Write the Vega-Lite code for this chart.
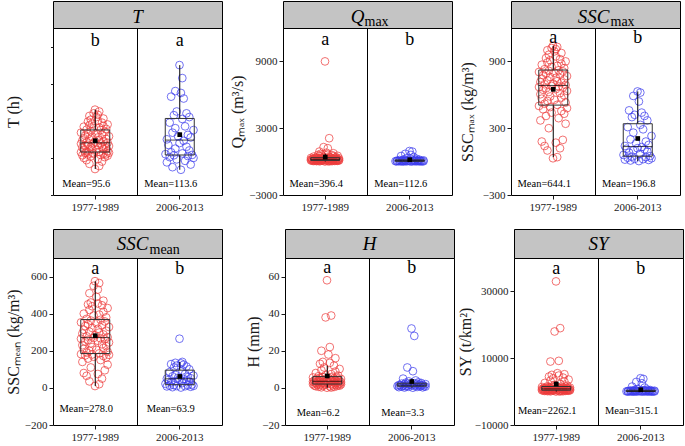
{
"$schema": "https://vega.github.io/schema/vega-lite/v6.json",
"padding": {"left": 4, "top": 0, "right": 0, "bottom": 0},
"background": "white",
"config": {
  "font": "Liberation Serif",
  "view": {"stroke": "black", "strokeWidth": 1},
  "axis": {"labelFont": "Liberation Serif", "labelFontSize": 11, "labelColor": "#1a1a1a", "titleFont": "Liberation Serif", "titleFontSize": 16, "titleFontWeight": "normal", "titleColor": "#1a1a1a", "tickColor": "#1a1a1a", "domain": false, "grid": false, "labelPadding": 2, "tickSize": 4},
  "axisX": {"labelAngle": 0}
},
"datasets": {
"ev": [
{"p":"1977-1989","j":0.0,"T":20,"Q":10,"Sx":30,"Sm":10,"H":0.1,"SY":20},
{"p":"1977-1989","j":0.3,"T":28,"Q":20,"Sx":40,"Sm":20,"H":0.2,"SY":50},
{"p":"1977-1989","j":-0.4,"T":34,"Q":30,"Sx":100,"Sm":35,"H":0.3,"SY":80},
{"p":"1977-1989","j":0.5,"T":40,"Q":40,"Sx":120,"Sm":50,"H":0.5,"SY":100},
{"p":"1977-1989","j":-0.6,"T":44,"Q":45,"Sx":140,"Sm":65,"H":0.6,"SY":130},
{"p":"1977-1989","j":0.2,"T":47,"Q":50,"Sx":170,"Sm":75,"H":0.8,"SY":160},
{"p":"1977-1989","j":-0.8,"T":50,"Q":55,"Sx":180,"Sm":80,"H":0.9,"SY":190},
{"p":"1977-1989","j":0.7,"T":52,"Q":60,"Sx":195,"Sm":95,"H":1.0,"SY":220},
{"p":"1977-1989","j":-0.3,"T":54,"Q":65,"Sx":300,"Sm":110,"H":1.1,"SY":250},
{"p":"1977-1989","j":0.9,"T":56,"Q":70,"Sx":340,"Sm":125,"H":1.2,"SY":270},
{"p":"1977-1989","j":-0.9,"T":57,"Q":75,"Sx":370,"Sm":140,"H":1.3,"SY":290},
{"p":"1977-1989","j":0.4,"T":58,"Q":80,"Sx":390,"Sm":150,"H":1.4,"SY":310},
{"p":"1977-1989","j":-0.5,"T":59,"Q":85,"Sx":410,"Sm":158,"H":1.5,"SY":330},
{"p":"1977-1989","j":0.8,"T":60,"Q":88,"Sx":430,"Sm":163,"H":1.6,"SY":340},
{"p":"1977-1989","j":-0.1,"T":61,"Q":90,"Sx":440,"Sm":168,"H":1.7,"SY":350},
{"p":"1977-1989","j":0.6,"T":62,"Q":92,"Sx":455,"Sm":172,"H":1.8,"SY":360},
{"p":"1977-1989","j":-0.7,"T":63,"Q":95,"Sx":470,"Sm":175,"H":1.8,"SY":370},
{"p":"1977-1989","j":1.0,"T":64,"Q":97,"Sx":480,"Sm":178,"H":1.9,"SY":380},
{"p":"1977-1989","j":-0.2,"T":64,"Q":99,"Sx":490,"Sm":180,"H":2.0,"SY":390},
{"p":"1977-1989","j":-1.0,"T":65,"Q":100,"Sx":500,"Sm":182,"H":2.0,"SY":400},
{"p":"1977-1989","j":0.3,"T":66,"Q":105,"Sx":510,"Sm":186,"H":2.1,"SY":420},
{"p":"1977-1989","j":-0.6,"T":67,"Q":110,"Sx":520,"Sm":190,"H":2.2,"SY":440},
{"p":"1977-1989","j":0.9,"T":68,"Q":115,"Sx":530,"Sm":195,"H":2.3,"SY":460},
{"p":"1977-1989","j":-0.4,"T":70,"Q":120,"Sx":545,"Sm":200,"H":2.4,"SY":480},
{"p":"1977-1989","j":0.1,"T":71,"Q":125,"Sx":555,"Sm":205,"H":2.5,"SY":500},
{"p":"1977-1989","j":-0.8,"T":72,"Q":130,"Sx":565,"Sm":210,"H":2.6,"SY":520},
{"p":"1977-1989","j":0.6,"T":74,"Q":135,"Sx":575,"Sm":215,"H":2.6,"SY":540},
{"p":"1977-1989","j":-0.2,"T":75,"Q":140,"Sx":585,"Sm":220,"H":2.7,"SY":560},
{"p":"1977-1989","j":0.8,"T":76,"Q":145,"Sx":595,"Sm":225,"H":2.8,"SY":580},
{"p":"1977-1989","j":-0.9,"T":78,"Q":150,"Sx":605,"Sm":230,"H":2.9,"SY":600},
{"p":"1977-1989","j":0.5,"T":79,"Q":155,"Sx":615,"Sm":235,"H":3.0,"SY":620},
{"p":"1977-1989","j":-0.3,"T":80,"Q":160,"Sx":625,"Sm":240,"H":3.0,"SY":640},
{"p":"1977-1989","j":1.0,"T":82,"Q":165,"Sx":635,"Sm":245,"H":3.1,"SY":660},
{"p":"1977-1989","j":-0.7,"T":83,"Q":170,"Sx":645,"Sm":250,"H":3.2,"SY":680},
{"p":"1977-1989","j":0.2,"T":84,"Q":175,"Sx":650,"Sm":254,"H":3.3,"SY":700},
{"p":"1977-1989","j":-0.5,"T":85,"Q":180,"Sx":658,"Sm":258,"H":3.3,"SY":720},
{"p":"1977-1989","j":0.7,"T":86,"Q":185,"Sx":665,"Sm":262,"H":3.4,"SY":740},
{"p":"1977-1989","j":-1.0,"T":88,"Q":190,"Sx":670,"Sm":265,"H":3.4,"SY":760},
{"p":"1977-1989","j":0.4,"T":89,"Q":195,"Sx":675,"Sm":267,"H":3.5,"SY":780},
{"p":"1977-1989","j":-0.1,"T":90,"Q":200,"Sx":680,"Sm":269,"H":3.5,"SY":800},
{"p":"1977-1989","j":0.9,"T":91,"Q":205,"Sx":688,"Sm":273,"H":3.6,"SY":830},
{"p":"1977-1989","j":-0.6,"T":92,"Q":210,"Sx":695,"Sm":278,"H":3.7,"SY":860},
{"p":"1977-1989","j":0.0,"T":94,"Q":215,"Sx":700,"Sm":283,"H":3.8,"SY":890},
{"p":"1977-1989","j":0.6,"T":95,"Q":220,"Sx":708,"Sm":288,"H":3.9,"SY":920},
{"p":"1977-1989","j":-0.9,"T":97,"Q":225,"Sx":715,"Sm":293,"H":4.0,"SY":950},
{"p":"1977-1989","j":0.3,"T":98,"Q":230,"Sx":722,"Sm":298,"H":4.1,"SY":980},
{"p":"1977-1989","j":-0.4,"T":100,"Q":240,"Sx":730,"Sm":303,"H":4.2,"SY":1010},
{"p":"1977-1989","j":0.8,"T":101,"Q":250,"Sx":738,"Sm":308,"H":4.3,"SY":1040},
{"p":"1977-1989","j":-0.8,"T":103,"Q":260,"Sx":745,"Sm":313,"H":4.4,"SY":1070},
{"p":"1977-1989","j":0.2,"T":105,"Q":270,"Sx":752,"Sm":318,"H":4.5,"SY":1100},
{"p":"1977-1989","j":-0.2,"T":107,"Q":280,"Sx":760,"Sm":323,"H":4.6,"SY":1140},
{"p":"1977-1989","j":1.0,"T":108,"Q":290,"Sx":768,"Sm":328,"H":4.8,"SY":1180},
{"p":"1977-1989","j":-0.7,"T":110,"Q":300,"Sx":775,"Sm":333,"H":5.0,"SY":1220},
{"p":"1977-1989","j":0.5,"T":112,"Q":310,"Sx":782,"Sm":338,"H":5.1,"SY":1260},
{"p":"1977-1989","j":-0.5,"T":114,"Q":315,"Sx":790,"Sm":343,"H":5.3,"SY":1300},
{"p":"1977-1989","j":0.1,"T":116,"Q":320,"Sx":798,"Sm":348,"H":5.4,"SY":1340},
{"p":"1977-1989","j":-1.0,"T":118,"Q":330,"Sx":805,"Sm":353,"H":5.6,"SY":1380},
{"p":"1977-1989","j":0.7,"T":120,"Q":335,"Sx":810,"Sm":358,"H":5.7,"SY":1420},
{"p":"1977-1989","j":-0.3,"T":122,"Q":340,"Sx":815,"Sm":363,"H":5.8,"SY":1460},
{"p":"1977-1989","j":0.4,"T":125,"Q":350,"Sx":820,"Sm":367,"H":6.0,"SY":1500},
{"p":"1977-1989","j":-0.6,"T":126,"Q":360,"Sx":830,"Sm":372,"H":6.3,"SY":1600},
{"p":"1977-1989","j":0.8,"T":128,"Q":380,"Sx":840,"Sm":380,"H":6.6,"SY":1800},
{"p":"1977-1989","j":-0.1,"T":130,"Q":400,"Sx":850,"Sm":390,"H":6.8,"SY":2000},
{"p":"1977-1989","j":0.3,"T":132,"Q":420,"Sx":860,"Sm":395,"H":7.4,"SY":2300},
{"p":"1977-1989","j":-0.8,"T":134,"Q":450,"Sx":870,"Sm":400,"H":8.0,"SY":2600},
{"p":"1977-1989","j":0.6,"T":136,"Q":480,"Sx":880,"Sm":410,"H":8.8,"SY":3000},
{"p":"1977-1989","j":-0.4,"T":138,"Q":500,"Sx":890,"Sm":420,"H":9.5,"SY":3300},
{"p":"1977-1989","j":0.9,"T":140,"Q":520,"Sx":900,"Sm":430,"H":10.2,"SY":3600},
{"p":"1977-1989","j":-0.2,"T":142,"Q":550,"Sx":910,"Sm":440,"H":11.0,"SY":4000},
{"p":"1977-1989","j":0.5,"T":145,"Q":580,"Sx":920,"Sm":445,"H":12.0,"SY":4200},
{"p":"1977-1989","j":-0.5,"T":148,"Q":600,"Sx":930,"Sm":450,"H":13.0,"SY":4500},
{"p":"1977-1989","j":0.2,"T":150,"Q":650,"Sx":945,"Sm":455,"H":13.5,"SY":4800},
{"p":"1977-1989","j":-0.3,"T":153,"Q":700,"Sx":960,"Sm":460,"H":14.0,"SY":5000},
{"p":"1977-1989","j":0.6,"T":156,"Q":750,"Sx":975,"Sm":470,"H":16.0,"SY":5200},
{"p":"1977-1989","j":0.1,"T":160,"Q":800,"Sx":990,"Sm":490,"H":18.0,"SY":5500},
{"p":"1977-1989","j":-0.4,"T":163,"Q":900,"Sx":1000,"Sm":510,"H":20.0,"SY":9000},
{"p":"1977-1989","j":0.2,"T":166,"Q":1200,"Sx":1010,"Sm":530,"H":22.0,"SY":9200},
{"p":"1977-1989","j":-0.1,"T":170,"Q":1300,"Sx":1020,"Sm":550,"H":38.0,"SY":18000},
{"p":"1977-1989","j":0.3,"T":175,"Q":2100,"Sx":1030,"Sm":565,"H":39.0,"SY":19000},
{"p":"1977-1989","j":0.0,"T":180,"Q":9000,"Sx":1040,"Sm":575,"H":58.0,"SY":33000},
{"p":"2006-2013","j":0.1,"T":18,"Q":5,"Sx":5,"Sm":2,"H":0.1,"SY":5},
{"p":"2006-2013","j":-0.5,"T":25,"Q":10,"Sx":10,"Sm":4,"H":0.2,"SY":10},
{"p":"2006-2013","j":0.8,"T":32,"Q":15,"Sx":15,"Sm":6,"H":0.3,"SY":15},
{"p":"2006-2013","j":-0.9,"T":38,"Q":18,"Sx":18,"Sm":8,"H":0.4,"SY":20},
{"p":"2006-2013","j":0.4,"T":42,"Q":20,"Sx":22,"Sm":9,"H":0.5,"SY":25},
{"p":"2006-2013","j":-0.2,"T":46,"Q":22,"Sx":25,"Sm":10,"H":0.6,"SY":30},
{"p":"2006-2013","j":1.0,"T":50,"Q":25,"Sx":30,"Sm":11,"H":0.7,"SY":35},
{"p":"2006-2013","j":-0.7,"T":52,"Q":27,"Sx":35,"Sm":12,"H":0.7,"SY":40},
{"p":"2006-2013","j":0.6,"T":55,"Q":28,"Sx":40,"Sm":14,"H":0.8,"SY":45},
{"p":"2006-2013","j":-0.4,"T":57,"Q":30,"Sx":45,"Sm":15,"H":0.8,"SY":50},
{"p":"2006-2013","j":0.9,"T":58,"Q":33,"Sx":50,"Sm":18,"H":0.9,"SY":60},
{"p":"2006-2013","j":-1.0,"T":60,"Q":36,"Sx":60,"Sm":22,"H":1.0,"SY":70},
{"p":"2006-2013","j":0.2,"T":62,"Q":40,"Sx":70,"Sm":26,"H":1.0,"SY":80},
{"p":"2006-2013","j":-0.6,"T":65,"Q":45,"Sx":80,"Sm":30,"H":1.1,"SY":90},
{"p":"2006-2013","j":0.7,"T":70,"Q":50,"Sx":90,"Sm":33,"H":1.2,"SY":100},
{"p":"2006-2013","j":-0.3,"T":75,"Q":55,"Sx":100,"Sm":36,"H":1.2,"SY":110},
{"p":"2006-2013","j":0.5,"T":80,"Q":60,"Sx":110,"Sm":40,"H":1.3,"SY":120},
{"p":"2006-2013","j":-0.8,"T":85,"Q":62,"Sx":115,"Sm":42,"H":1.4,"SY":130},
{"p":"2006-2013","j":0.0,"T":90,"Q":65,"Sx":120,"Sm":45,"H":1.4,"SY":140},
{"p":"2006-2013","j":0.3,"T":96,"Q":70,"Sx":130,"Sm":48,"H":1.5,"SY":150},
{"p":"2006-2013","j":-0.9,"T":100,"Q":75,"Sx":140,"Sm":50,"H":1.5,"SY":160},
{"p":"2006-2013","j":0.8,"T":105,"Q":80,"Sx":150,"Sm":52,"H":1.6,"SY":180},
{"p":"2006-2013","j":-0.1,"T":108,"Q":85,"Sx":165,"Sm":55,"H":1.7,"SY":200},
{"p":"2006-2013","j":0.6,"T":112,"Q":90,"Sx":180,"Sm":58,"H":1.8,"SY":220},
{"p":"2006-2013","j":-0.5,"T":118,"Q":100,"Sx":200,"Sm":62,"H":1.9,"SY":240},
{"p":"2006-2013","j":1.0,"T":125,"Q":110,"Sx":230,"Sm":66,"H":2.0,"SY":260},
{"p":"2006-2013","j":-0.3,"T":130,"Q":120,"Sx":260,"Sm":70,"H":2.1,"SY":280},
{"p":"2006-2013","j":0.4,"T":135,"Q":130,"Sx":290,"Sm":75,"H":2.2,"SY":320},
{"p":"2006-2013","j":-0.7,"T":145,"Q":140,"Sx":310,"Sm":85,"H":2.3,"SY":360},
{"p":"2006-2013","j":0.2,"T":155,"Q":150,"Sx":330,"Sm":94,"H":2.5,"SY":400},
{"p":"2006-2013","j":0.7,"T":160,"Q":170,"Sx":370,"Sm":100,"H":2.6,"SY":450},
{"p":"2006-2013","j":-0.4,"T":165,"Q":200,"Sx":400,"Sm":110,"H":2.8,"SY":500},
{"p":"2006-2013","j":0.5,"T":170,"Q":250,"Sx":410,"Sm":115,"H":3.0,"SY":600},
{"p":"2006-2013","j":-0.2,"T":175,"Q":300,"Sx":420,"Sm":120,"H":3.5,"SY":800},
{"p":"2006-2013","j":0.3,"T":210,"Q":400,"Sx":440,"Sm":125,"H":4.0,"SY":1200},
{"p":"2006-2013","j":-0.6,"T":215,"Q":500,"Sx":460,"Sm":128,"H":5.0,"SY":1500},
{"p":"2006-2013","j":0.1,"T":225,"Q":600,"Sx":540,"Sm":132,"H":9.0,"SY":2500},
{"p":"2006-2013","j":-0.3,"T":230,"Q":700,"Sx":590,"Sm":135,"H":11.0,"SY":2900},
{"p":"2006-2013","j":0.2,"T":265,"Q":900,"Sx":620,"Sm":140,"H":28.0,"SY":3800},
{"p":"2006-2013","j":0.0,"T":300,"Q":950,"Sx":630,"Sm":265,"H":32.0,"SY":4000}
],
"lab": [
{"v":"T","p":"1977-1989","L":"b","M":"Mean=95.6"},{"v":"T","p":"2006-2013","L":"a","M":"Mean=113.6"},
{"v":"Q","p":"1977-1989","L":"a","M":"Mean=396.4"},{"v":"Q","p":"2006-2013","L":"b","M":"Mean=112.6"},
{"v":"Sx","p":"1977-1989","L":"a","M":"Mean=644.1"},{"v":"Sx","p":"2006-2013","L":"b","M":"Mean=196.8"},
{"v":"Sm","p":"1977-1989","L":"a","M":"Mean=278.0"},{"v":"Sm","p":"2006-2013","L":"b","M":"Mean=63.9"},
{"v":"H","p":"1977-1989","L":"a","M":"Mean=6.2"},{"v":"H","p":"2006-2013","L":"b","M":"Mean=3.3"},
{"v":"SY","p":"1977-1989","L":"a","M":"Mean=2262.1"},{"v":"SY","p":"2006-2013","L":"b","M":"Mean=315.1"}
]
},
"spacing": 15,
"vconcat": [
{"hconcat": [
{"vconcat": [
 {"width": 169, "height": 27, "data": {"values": [{}]}, "view": {"fill": "#c4c4c4", "stroke": "black"},
  "layer": [{"mark": {"type": "text", "text": "T", "font": "Liberation Serif", "fontStyle": "italic", "fontSize": 19, "dy": 2}, "encoding": {}}]},
 {"width": 169, "height": 167,
  "encoding": {"x": {"field": "p", "type": "nominal", "title": null, "scale": {"type": "band", "paddingInner": 0, "paddingOuter": 0}, "axis": {"labelAngle": 0}}},
  "layer": [
   {"data": {"name": "ev"}, "mark": {"type": "point", "shape": "circle", "filled": false, "size": 60, "strokeWidth": 0.8, "opacity": 0.9},
    "encoding": {"xOffset": {"field": "j", "type": "quantitative", "scale": {"domain": [-1, 1], "range": [28, 56]}},
     "color": {"field": "p", "type": "nominal", "scale": {"range": ["#ee3b3b", "#3b3bee"]}, "legend": null},
     "y": {"field": "T", "type": "quantitative", "title": "T (h)", "scale": {"domain": [-50, 400], "nice": false, "zero": false},
      "axis": {"values": [-50,0,50,100,150,200,250,300,350,400], "labelOverlap": false, "labelExpr": "abs(datum.value) % 100 === 0 ? datum.label : ''", "tickDash": {"condition": {"test": "abs(datum.value) % 100 !== 0", "value": [2.5, 20]}, "value": []}, "titleX": -40, "titleY": 83.5, "titleBaseline": "middle"}}}},
   {"data": {"name": "ev"}, "mark": {"type": "boxplot", "extent": 1.5, "size": 29, "outliers": false, "box": {"fillOpacity": 0, "stroke": "#333", "strokeWidth": 1}, "median": {"color": "black", "strokeWidth": 1.5}, "rule": {"color": "black", "strokeWidth": 1}}, "encoding": {"y": {"field": "T", "type": "quantitative", "title": "T (h)"}}},
   {"data": {"name": "ev"}, "mark": {"type": "square", "size": 22, "color": "black", "opacity": 1, "filled": true}, "encoding": {"y": {"aggregate": "mean", "field": "T", "type": "quantitative", "title": "T (h)"}}},
   {"data": {"name": "lab"}, "transform": [{"filter": "datum.v === 'T'"}], "mark": {"type": "text", "font": "Liberation Serif", "fontSize": 18, "baseline": "middle"}, "encoding": {"y": {"datum": 366, "type": "quantitative", "title": "T (h)"}, "text": {"field": "L"}}},
   {"data": {"name": "lab"}, "transform": [{"filter": "datum.v === 'T'"}], "mark": {"type": "text", "font": "Liberation Serif", "fontSize": 10.5, "dx": -9, "baseline": "middle"}, "encoding": {"y": {"datum": -20, "type": "quantitative", "title": "T (h)"}, "text": {"field": "M"}}},
   {"data": {"name": "lab"}, "transform": [{"filter": "datum.v === 'T' && datum.p === '2006-2013'"}], "mark": {"type": "rule", "color": "black", "strokeWidth": 1}, "encoding": {"x": {"field": "p", "type": "nominal", "title": null, "bandPosition": 0}}}
  ]}
], "spacing": 0, "bounds": "flush"},
{"hconcat": [
{"vconcat": [
 {"width": 169, "height": 27, "data": {"values": [{}]}, "view": {"fill": "#c4c4c4", "stroke": "black"},
  "layer": [
   {"mark": {"type": "text", "text": "Q", "font": "Liberation Serif", "fontStyle": "italic", "fontSize": 19, "dy": 2, "align": "right", "dx": -3}, "encoding": {}},
   {"mark": {"type": "text", "text": "max", "font": "Liberation Serif", "fontSize": 14, "dy": 7, "align": "left", "dx": -3}, "encoding": {}}
  ]},
 {"width": 169, "height": 167,
  "encoding": {"x": {"field": "p", "type": "nominal", "title": null, "scale": {"type": "band", "paddingInner": 0, "paddingOuter": 0}, "axis": {"labelAngle": 0}}},
  "layer": [
   {"data": {"name": "ev"}, "mark": {"type": "point", "shape": "circle", "filled": false, "size": 60, "strokeWidth": 0.8, "opacity": 0.9},
    "encoding": {"xOffset": {"field": "j", "type": "quantitative", "scale": {"domain": [-1, 1], "range": [28, 56]}},
     "color": {"field": "p", "type": "nominal", "scale": {"range": ["#ee3b3b", "#3b3bee"]}, "legend": null},
     "y": {"field": "Q", "type": "quantitative", "title": "Qₘₐₓ (m³/s)", "scale": {"domain": [-3000, 12000], "nice": false, "zero": false},
      "axis": {"values": [-3000,-1500,0,1500,3000,4500,6000,7500,9000,10500,12000], "format": "d", "labelOverlap": false, "labelExpr": "abs(datum.value) % 3000 === 0 ? datum.label : ''", "tickDash": {"condition": {"test": "abs(datum.value) % 3000 !== 0", "value": [2.5, 20]}, "value": []}, "titleX": -46, "titleY": 83.5, "titleBaseline": "middle"}}}},
   {"data": {"name": "ev"}, "mark": {"type": "boxplot", "extent": 1.5, "size": 29, "outliers": false, "box": {"fillOpacity": 0, "stroke": "#333", "strokeWidth": 1}, "median": {"color": "black", "strokeWidth": 1.5}, "rule": {"color": "black", "strokeWidth": 1}}, "encoding": {"y": {"field": "Q", "type": "quantitative", "title": "Qₘₐₓ (m³/s)"}}},
   {"data": {"name": "ev"}, "mark": {"type": "square", "size": 22, "color": "black", "opacity": 1, "filled": true}, "encoding": {"y": {"aggregate": "mean", "field": "Q", "type": "quantitative", "title": "Qₘₐₓ (m³/s)"}}},
   {"data": {"name": "lab"}, "transform": [{"filter": "datum.v === 'Q'"}], "mark": {"type": "text", "font": "Liberation Serif", "fontSize": 18, "baseline": "middle"}, "encoding": {"y": {"datum": 10900, "type": "quantitative", "title": "Qₘₐₓ (m³/s)"}, "text": {"field": "L"}}},
   {"data": {"name": "lab"}, "transform": [{"filter": "datum.v === 'Q'"}], "mark": {"type": "text", "font": "Liberation Serif", "fontSize": 10.5, "dx": -9, "baseline": "middle"}, "encoding": {"y": {"datum": -2000, "type": "quantitative", "title": "Qₘₐₓ (m³/s)"}, "text": {"field": "M"}}},
   {"data": {"name": "lab"}, "transform": [{"filter": "datum.v === 'Q' && datum.p === '2006-2013'"}], "mark": {"type": "rule", "color": "black", "strokeWidth": 1}, "encoding": {"x": {"field": "p", "type": "nominal", "title": null, "bandPosition": 0}}}
  ]}
], "spacing": 0, "bounds": "flush"},
{"vconcat": [
 {"width": 169, "height": 27, "data": {"values": [{}]}, "view": {"fill": "#c4c4c4", "stroke": "black"},
  "layer": [
   {"mark": {"type": "text", "text": "SSC", "font": "Liberation Serif", "fontStyle": "italic", "fontSize": 19, "dy": 2, "align": "right", "dx": 14}, "encoding": {}},
   {"mark": {"type": "text", "text": "max", "font": "Liberation Serif", "fontSize": 14, "dy": 7, "align": "left", "dx": 15}, "encoding": {}}
  ]},
 {"width": 169, "height": 167,
  "encoding": {"x": {"field": "p", "type": "nominal", "title": null, "scale": {"type": "band", "paddingInner": 0, "paddingOuter": 0}, "axis": {"labelAngle": 0}}},
  "layer": [
   {"data": {"name": "ev"}, "mark": {"type": "point", "shape": "circle", "filled": false, "size": 60, "strokeWidth": 0.8, "opacity": 0.9},
    "encoding": {"xOffset": {"field": "j", "type": "quantitative", "scale": {"domain": [-1, 1], "range": [28, 56]}},
     "color": {"field": "p", "type": "nominal", "scale": {"range": ["#ee3b3b", "#3b3bee"]}, "legend": null},
     "y": {"field": "Sx", "type": "quantitative", "title": "SSCₘₐₓ (kg/m³)", "scale": {"domain": [-300, 1200], "nice": false, "zero": false},
      "axis": {"values": [-300,-150,0,150,300,450,600,750,900,1050,1200], "format": "d", "labelOverlap": false, "labelExpr": "abs(datum.value) % 300 === 0 ? datum.label : ''", "tickDash": {"condition": {"test": "abs(datum.value) % 300 !== 0", "value": [2.5, 20]}, "value": []}, "titleX": -44, "titleY": 83.5, "titleBaseline": "middle"}}}},
   {"data": {"name": "ev"}, "mark": {"type": "boxplot", "extent": 1.5, "size": 29, "outliers": false, "box": {"fillOpacity": 0, "stroke": "#333", "strokeWidth": 1}, "median": {"color": "black", "strokeWidth": 1.5}, "rule": {"color": "black", "strokeWidth": 1}}, "encoding": {"y": {"field": "Sx", "type": "quantitative", "title": "SSCₘₐₓ (kg/m³)"}}},
   {"data": {"name": "ev"}, "mark": {"type": "square", "size": 22, "color": "black", "opacity": 1, "filled": true}, "encoding": {"y": {"aggregate": "mean", "field": "Sx", "type": "quantitative", "title": "SSCₘₐₓ (kg/m³)"}}},
   {"data": {"name": "lab"}, "transform": [{"filter": "datum.v === 'Sx'"}], "mark": {"type": "text", "font": "Liberation Serif", "fontSize": 18, "baseline": "middle"}, "encoding": {"y": {"datum": 1110, "type": "quantitative", "title": "SSCₘₐₓ (kg/m³)"}, "text": {"field": "L"}}},
   {"data": {"name": "lab"}, "transform": [{"filter": "datum.v === 'Sx'"}], "mark": {"type": "text", "font": "Liberation Serif", "fontSize": 10.5, "dx": -9, "baseline": "middle"}, "encoding": {"y": {"datum": -200, "type": "quantitative", "title": "SSCₘₐₓ (kg/m³)"}, "text": {"field": "M"}}},
   {"data": {"name": "lab"}, "transform": [{"filter": "datum.v === 'Sx' && datum.p === '2006-2013'"}], "mark": {"type": "rule", "color": "black", "strokeWidth": 1}, "encoding": {"x": {"field": "p", "type": "nominal", "title": null, "bandPosition": 0}}}
  ]}
], "spacing": 0, "bounds": "flush"}
], "spacing": 5}
], "spacing": 5},
{"hconcat": [
{"vconcat": [
 {"width": 169, "height": 29, "data": {"values": [{}]}, "view": {"fill": "#c4c4c4", "stroke": "black"},
  "layer": [
   {"mark": {"type": "text", "text": "SSC", "font": "Liberation Serif", "fontStyle": "italic", "fontSize": 19, "dy": 0, "align": "right", "dx": 11}, "encoding": {}},
   {"mark": {"type": "text", "text": "mean", "font": "Liberation Serif", "fontSize": 14, "dy": 6, "align": "left", "dx": 12}, "encoding": {}}
  ]},
 {"width": 169, "height": 167,
  "encoding": {"x": {"field": "p", "type": "nominal", "title": null, "scale": {"type": "band", "paddingInner": 0, "paddingOuter": 0}, "axis": {"labelAngle": 0}}},
  "layer": [
   {"data": {"name": "ev"}, "mark": {"type": "point", "shape": "circle", "filled": false, "size": 60, "strokeWidth": 0.8, "opacity": 0.9},
    "encoding": {"xOffset": {"field": "j", "type": "quantitative", "scale": {"domain": [-1, 1], "range": [28, 56]}},
     "color": {"field": "p", "type": "nominal", "scale": {"range": ["#ee3b3b", "#3b3bee"]}, "legend": null},
     "y": {"field": "Sm", "type": "quantitative", "title": "SSCₘₑₐₙ (kg/m³)", "scale": {"domain": [-200, 700], "nice": false, "zero": false},
      "axis": {"values": [-200,-100,0,100,200,300,400,500,600,700], "format": "d", "labelOverlap": false, "labelExpr": "abs(datum.value) % 200 === 0 ? datum.label : ''", "tickDash": {"condition": {"test": "abs(datum.value) % 200 !== 0", "value": [2.5, 20]}, "value": []}, "titleX": -40, "titleY": 83.5, "titleBaseline": "middle"}}}},
   {"data": {"name": "ev"}, "mark": {"type": "boxplot", "extent": 1.5, "size": 29, "outliers": false, "box": {"fillOpacity": 0, "stroke": "#333", "strokeWidth": 1}, "median": {"color": "black", "strokeWidth": 1.5}, "rule": {"color": "black", "strokeWidth": 1}}, "encoding": {"y": {"field": "Sm", "type": "quantitative", "title": "SSCₘₑₐₙ (kg/m³)"}}},
   {"data": {"name": "ev"}, "mark": {"type": "square", "size": 22, "color": "black", "opacity": 1, "filled": true}, "encoding": {"y": {"aggregate": "mean", "field": "Sm", "type": "quantitative", "title": "SSCₘₑₐₙ (kg/m³)"}}},
   {"data": {"name": "lab"}, "transform": [{"filter": "datum.v === 'Sm'"}], "mark": {"type": "text", "font": "Liberation Serif", "fontSize": 18, "baseline": "middle"}, "encoding": {"y": {"datum": 641, "type": "quantitative", "title": "SSCₘₑₐₙ (kg/m³)"}, "text": {"field": "L"}}},
   {"data": {"name": "lab"}, "transform": [{"filter": "datum.v === 'Sm'"}], "mark": {"type": "text", "font": "Liberation Serif", "fontSize": 10.5, "dx": -9, "baseline": "middle"}, "encoding": {"y": {"datum": -116, "type": "quantitative", "title": "SSCₘₑₐₙ (kg/m³)"}, "text": {"field": "M"}}},
   {"data": {"name": "lab"}, "transform": [{"filter": "datum.v === 'Sm' && datum.p === '2006-2013'"}], "mark": {"type": "rule", "color": "black", "strokeWidth": 1}, "encoding": {"x": {"field": "p", "type": "nominal", "title": null, "bandPosition": 0}}}
  ]}
], "spacing": 0, "bounds": "flush"},
{"hconcat": [
{"vconcat": [
 {"width": 169, "height": 29, "data": {"values": [{}]}, "view": {"fill": "#c4c4c4", "stroke": "black"},
  "layer": [{"mark": {"type": "text", "text": "H", "font": "Liberation Serif", "fontStyle": "italic", "fontSize": 19, "dy": 0}, "encoding": {}}]},
 {"width": 169, "height": 167,
  "encoding": {"x": {"field": "p", "type": "nominal", "title": null, "scale": {"type": "band", "paddingInner": 0, "paddingOuter": 0}, "axis": {"labelAngle": 0}}},
  "layer": [
   {"data": {"name": "ev"}, "mark": {"type": "point", "shape": "circle", "filled": false, "size": 60, "strokeWidth": 0.8, "opacity": 0.9},
    "encoding": {"xOffset": {"field": "j", "type": "quantitative", "scale": {"domain": [-1, 1], "range": [28, 56]}},
     "color": {"field": "p", "type": "nominal", "scale": {"range": ["#ee3b3b", "#3b3bee"]}, "legend": null},
     "y": {"field": "H", "type": "quantitative", "title": "H (mm)", "scale": {"domain": [-20, 70], "nice": false, "zero": false},
      "axis": {"values": [-20,-10,0,10,20,30,40,50,60,70], "format": "d", "labelOverlap": false, "labelExpr": "abs(datum.value) % 20 === 0 ? datum.label : ''", "tickDash": {"condition": {"test": "abs(datum.value) % 20 !== 0", "value": [2.5, 20]}, "value": []}, "titleX": -32, "titleY": 83.5, "titleBaseline": "middle"}}}},
   {"data": {"name": "ev"}, "mark": {"type": "boxplot", "extent": 1.5, "size": 29, "outliers": false, "box": {"fillOpacity": 0, "stroke": "#333", "strokeWidth": 1}, "median": {"color": "black", "strokeWidth": 1.5}, "rule": {"color": "black", "strokeWidth": 1}}, "encoding": {"y": {"field": "H", "type": "quantitative", "title": "H (mm)"}}},
   {"data": {"name": "ev"}, "mark": {"type": "square", "size": 22, "color": "black", "opacity": 1, "filled": true}, "encoding": {"y": {"aggregate": "mean", "field": "H", "type": "quantitative", "title": "H (mm)"}}},
   {"data": {"name": "lab"}, "transform": [{"filter": "datum.v === 'H'"}], "mark": {"type": "text", "font": "Liberation Serif", "fontSize": 18, "baseline": "middle"}, "encoding": {"y": {"datum": 64.8, "type": "quantitative", "title": "H (mm)"}, "text": {"field": "L"}}},
   {"data": {"name": "lab"}, "transform": [{"filter": "datum.v === 'H'"}], "mark": {"type": "text", "font": "Liberation Serif", "fontSize": 10.5, "dx": -9, "baseline": "middle"}, "encoding": {"y": {"datum": -13.3, "type": "quantitative", "title": "H (mm)"}, "text": {"field": "M"}}},
   {"data": {"name": "lab"}, "transform": [{"filter": "datum.v === 'H' && datum.p === '2006-2013'"}], "mark": {"type": "rule", "color": "black", "strokeWidth": 1}, "encoding": {"x": {"field": "p", "type": "nominal", "title": null, "bandPosition": 0}}}
  ]}
], "spacing": 0, "bounds": "flush"},
{"vconcat": [
 {"width": 169, "height": 29, "data": {"values": [{}]}, "view": {"fill": "#c4c4c4", "stroke": "black"},
  "layer": [{"mark": {"type": "text", "text": "SY", "font": "Liberation Serif", "fontStyle": "italic", "fontSize": 19, "dy": 0}, "encoding": {}}]},
 {"width": 169, "height": 167,
  "encoding": {"x": {"field": "p", "type": "nominal", "title": null, "scale": {"type": "band", "paddingInner": 0, "paddingOuter": 0}, "axis": {"labelAngle": 0}}},
  "layer": [
   {"data": {"name": "ev"}, "mark": {"type": "point", "shape": "circle", "filled": false, "size": 60, "strokeWidth": 0.8, "opacity": 0.9},
    "encoding": {"xOffset": {"field": "j", "type": "quantitative", "scale": {"domain": [-1, 1], "range": [28, 56]}},
     "color": {"field": "p", "type": "nominal", "scale": {"range": ["#ee3b3b", "#3b3bee"]}, "legend": null},
     "y": {"field": "SY", "type": "quantitative", "title": "SY (t/km²)", "scale": {"domain": [-10000, 40000], "nice": false, "zero": false},
      "axis": {"values": [-10000,-5000,0,5000,10000,15000,20000,25000,30000,35000,40000], "format": "d", "labelOverlap": false, "labelExpr": "abs(datum.value) % 10000 === 0 ? datum.label : ''", "tickDash": {"condition": {"test": "abs(datum.value) % 10000 !== 0", "value": [2.5, 20]}, "value": []}, "titleX": -49, "titleY": 83.5, "titleBaseline": "middle"}}}},
   {"data": {"name": "ev"}, "mark": {"type": "boxplot", "extent": 1.5, "size": 29, "outliers": false, "box": {"fillOpacity": 0, "stroke": "#333", "strokeWidth": 1}, "median": {"color": "black", "strokeWidth": 1.5}, "rule": {"color": "black", "strokeWidth": 1}}, "encoding": {"y": {"field": "SY", "type": "quantitative", "title": "SY (t/km²)"}}},
   {"data": {"name": "ev"}, "mark": {"type": "square", "size": 22, "color": "black", "opacity": 1, "filled": true}, "encoding": {"y": {"aggregate": "mean", "field": "SY", "type": "quantitative", "title": "SY (t/km²)"}}},
   {"data": {"name": "lab"}, "transform": [{"filter": "datum.v === 'SY'"}], "mark": {"type": "text", "font": "Liberation Serif", "fontSize": 18, "baseline": "middle"}, "encoding": {"y": {"datum": 36700, "type": "quantitative", "title": "SY (t/km²)"}, "text": {"field": "L"}}},
   {"data": {"name": "lab"}, "transform": [{"filter": "datum.v === 'SY'"}], "mark": {"type": "text", "font": "Liberation Serif", "fontSize": 10.5, "dx": -9, "baseline": "middle"}, "encoding": {"y": {"datum": -5730, "type": "quantitative", "title": "SY (t/km²)"}, "text": {"field": "M"}}},
   {"data": {"name": "lab"}, "transform": [{"filter": "datum.v === 'SY' && datum.p === '2006-2013'"}], "mark": {"type": "rule", "color": "black", "strokeWidth": 1}, "encoding": {"x": {"field": "p", "type": "nominal", "title": null, "bandPosition": 0}}}
  ]}
], "spacing": 0, "bounds": "flush"}
], "spacing": 1}
], "spacing": 21}
]
}
